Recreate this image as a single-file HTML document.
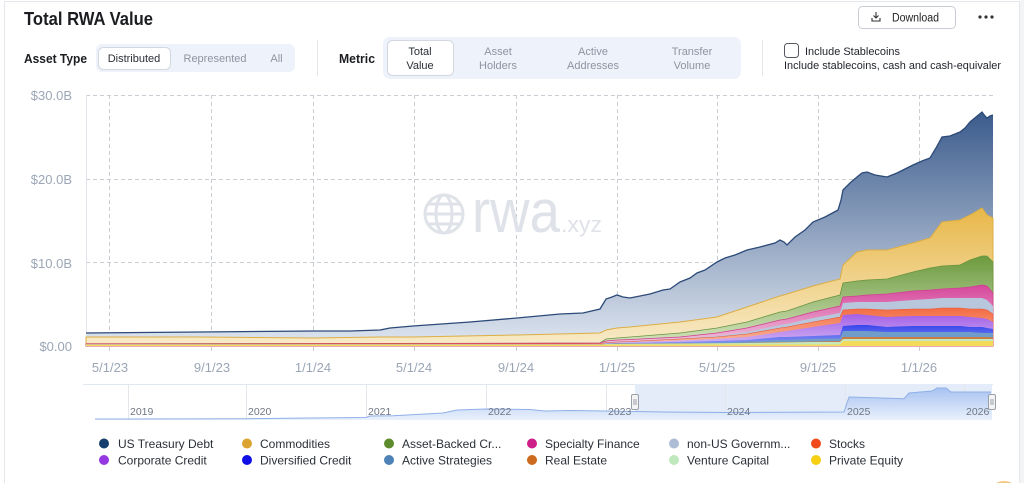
<!DOCTYPE html>
<html><head><meta charset="utf-8"><style>
html,body{margin:0;padding:0;background:#fff;}
svg{display:block;font-family:"Liberation Sans",Arial,sans-serif;}
</style></head><body>
<svg width="1024" height="483" viewBox="0 0 1024 483" xmlns="http://www.w3.org/2000/svg">
<defs>
<linearGradient id="gT" gradientUnits="userSpaceOnUse" x1="0" y1="110" x2="0" y2="346"><stop offset="0" stop-color="#3a5a8b"/><stop offset="1" stop-color="#dfe6f0"/></linearGradient>
<linearGradient id="gC" gradientUnits="userSpaceOnUse" x1="0" y1="210" x2="0" y2="346"><stop offset="0" stop-color="#e8b84a"/><stop offset="1" stop-color="#f8ebca"/></linearGradient>
<linearGradient id="gG" gradientUnits="userSpaceOnUse" x1="0" y1="255" x2="0" y2="346"><stop offset="0" stop-color="#6b993c"/><stop offset="1" stop-color="#d6e5c0"/></linearGradient>
<linearGradient id="gP" gradientUnits="userSpaceOnUse" x1="0" y1="285" x2="0" y2="346"><stop offset="0" stop-color="#d5469b"/><stop offset="1" stop-color="#f2c6de"/></linearGradient>
<linearGradient id="gS" gradientUnits="userSpaceOnUse" x1="0" y1="305" x2="0" y2="346"><stop offset="0" stop-color="#f2643a"/><stop offset="1" stop-color="#f9bca4"/></linearGradient>
<linearGradient id="gCc" gradientUnits="userSpaceOnUse" x1="0" y1="312" x2="0" y2="346"><stop offset="0" stop-color="#a05ae6"/><stop offset="1" stop-color="#d4b8f3"/></linearGradient>
<linearGradient id="gD" gradientUnits="userSpaceOnUse" x1="0" y1="322" x2="0" y2="346"><stop offset="0" stop-color="#2a38ea"/><stop offset="1" stop-color="#8f9cf2"/></linearGradient>
<linearGradient id="gN" gradientUnits="userSpaceOnUse" x1="0" y1="384" x2="0" y2="420"><stop offset="0" stop-color="#9fbcef"/><stop offset="1" stop-color="#eaf1fc"/></linearGradient>
</defs>

<!-- page frame -->
<rect x="1020" y="0" width="4" height="483" fill="#f3f4f6"/>
<rect x="4.5" y="1.5" width="1015" height="500" fill="none" stroke="#e4e7ec"/>

<!-- header -->
<text x="24" y="25" font-size="18" font-weight="bold" fill="#1b1d21" textLength="129" lengthAdjust="spacingAndGlyphs">Total RWA Value</text>

<rect x="858.5" y="6.5" width="97" height="22" rx="4" fill="#fff" stroke="#c9cdd3"/>
<g stroke="#333" stroke-width="1.1" fill="none">
<path d="M876,12 v6 M873.5,15.5 l2.5,2.5 l2.5,-2.5"/>
<path d="M872,18 v3 h8 v-3"/>
</g>
<text x="892" y="21.5" font-size="11.5" fill="#222" textLength="47" lengthAdjust="spacingAndGlyphs">Download</text>
<circle cx="980" cy="17" r="1.6" fill="#333"/><circle cx="986" cy="17" r="1.6" fill="#333"/><circle cx="992" cy="17" r="1.6" fill="#333"/>

<text x="24" y="63" font-size="13" font-weight="bold" fill="#1b1d21" textLength="63" lengthAdjust="spacingAndGlyphs">Asset Type</text>
<rect x="96" y="44" width="199" height="28" rx="6" fill="#eef2fa"/>
<rect x="98.5" y="47.5" width="72" height="22" rx="5" fill="#fff" stroke="#d3d8e0"/>
<text x="134" y="62" font-size="11" fill="#2a2e35" text-anchor="middle">Distributed</text>
<text x="215" y="62" font-size="11" fill="#8d95a2" text-anchor="middle">Represented</text>
<text x="276.5" y="62" font-size="11" fill="#8d95a2" text-anchor="middle">All</text>

<line x1="317.5" y1="40" x2="317.5" y2="76" stroke="#e4e7ec"/>

<text x="339" y="63" font-size="13" font-weight="bold" fill="#1b1d21" textLength="36" lengthAdjust="spacingAndGlyphs">Metric</text>
<rect x="383" y="37" width="358" height="42" rx="7" fill="#eef2fa"/>
<rect x="387.5" y="40.5" width="66" height="35" rx="5" fill="#fff" stroke="#d3d8e0"/>
<text x="420" y="55" font-size="11" fill="#2a2e35" text-anchor="middle">Total</text>
<text x="420" y="69" font-size="11" fill="#2a2e35" text-anchor="middle">Value</text>
<text x="498" y="55" font-size="11" fill="#8d95a2" text-anchor="middle">Asset</text>
<text x="498" y="69" font-size="11" fill="#8d95a2" text-anchor="middle">Holders</text>
<text x="593" y="55" font-size="11" fill="#8d95a2" text-anchor="middle">Active</text>
<text x="593" y="69" font-size="11" fill="#8d95a2" text-anchor="middle">Addresses</text>
<text x="692" y="55" font-size="11" fill="#8d95a2" text-anchor="middle">Transfer</text>
<text x="692" y="69" font-size="11" fill="#8d95a2" text-anchor="middle">Volume</text>

<line x1="762.5" y1="40" x2="762.5" y2="76" stroke="#e4e7ec"/>

<rect x="784.5" y="43.5" width="14" height="14" rx="3" fill="#fff" stroke="#55595f"/>
<text x="805" y="55" font-size="11" fill="#1f2329" textLength="95" lengthAdjust="spacingAndGlyphs">Include Stablecoins</text>
<text x="784" y="69" font-size="11" fill="#1f2329" textLength="217" lengthAdjust="spacingAndGlyphs">Include stablecoins, cash and cash-equivaler</text>

<!-- grid -->
<g stroke="#c9cdd4" stroke-width="1" stroke-dasharray="4,3" fill="none">
<line x1="86" y1="95.5" x2="993" y2="95.5"/>
<line x1="86" y1="179.5" x2="993" y2="179.5"/>
<line x1="86" y1="262.5" x2="993" y2="262.5"/>
<line x1="109.5" y1="95" x2="109.5" y2="352"/>
<line x1="211.5" y1="95" x2="211.5" y2="352"/>
<line x1="313.5" y1="95" x2="313.5" y2="352"/>
<line x1="414.5" y1="95" x2="414.5" y2="352"/>
<line x1="516.5" y1="95" x2="516.5" y2="352"/>
<line x1="617.5" y1="95" x2="617.5" y2="352"/>
<line x1="717.5" y1="95" x2="717.5" y2="352"/>
<line x1="818.5" y1="95" x2="818.5" y2="352"/>
<line x1="919.5" y1="95" x2="919.5" y2="352"/>
</g>
<line x1="86.5" y1="95" x2="86.5" y2="346" stroke="#e1e4e9"/>

<!-- watermark -->
<g fill="none" stroke="#dfe2e8" stroke-width="3">
<circle cx="444" cy="214" r="19"/>
<ellipse cx="444" cy="214" rx="8" ry="19"/>
<line x1="425" y1="214" x2="463" y2="214"/>
<path d="M428,204 h32 M428,224 h32"/>
</g>
<text x="472" y="232" font-size="60" fill="#dfe2e8" textLength="88" lengthAdjust="spacingAndGlyphs">rwa</text>
<text x="561" y="232" font-size="22" fill="#dfe2e8" textLength="41" lengthAdjust="spacingAndGlyphs">.xyz</text>

<!-- stacked areas -->
<path fill="url(#gT)" stroke="none" d="M86,346 L86,333 L200,332 L313,331 L350,331 L380,330 L390,328 L413,326 L470,322 L517,318 L560,314 L583,313 L600,309 L606,299 L612,297 L617,295 L623,297 L630,298 L640,296 L650,294 L663,290 L670,289 L680,282 L690,278 L697,273 L705,270 L717,262 L725,258 L735,255 L747,250 L760,247 L775,243 L780,240 L784,242 L787,245 L795,237 L805,230 L813,222 L825,217 L838,210 L841,200 L843,190 L850,183 L857,177 L862,173 L867,172 L875,175 L887,177 L897,173 L905,169 L913,165 L922,161 L930,158 L936,148 L942,137 L950,136 L960,132 L965,128 L970,122 L976,117 L982,112 L985,116 L987,118 L990,116 L993,115 L993,346 Z"/>
<path fill="none" stroke="#2c4a78" stroke-width="1.3" d="M86,333 L200,332 L313,331 L350,331 L380,330 L390,328 L413,326 L470,322 L517,318 L560,314 L583,313 L600,309 L606,299 L612,297 L617,295 L623,297 L630,298 L640,296 L650,294 L663,290 L670,289 L680,282 L690,278 L697,273 L705,270 L717,262 L725,258 L735,255 L747,250 L760,247 L775,243 L780,240 L784,242 L787,245 L795,237 L805,230 L813,222 L825,217 L838,210 L841,200 L843,190 L850,183 L857,177 L862,173 L867,172 L875,175 L887,177 L897,173 L905,169 L913,165 L922,161 L930,158 L936,148 L942,137 L950,136 L960,132 L965,128 L970,122 L976,117 L982,112 L985,116 L987,118 L990,116 L993,115"/>

<path fill="url(#gC)" stroke="#dcae45" stroke-width="1" d="M86,346 L86,337 L200,337 L313,338 L380,337 L413,337 L517,335 L600,333 L606,330 L617,328 L630,327 L680,322 L717,317 L747,307 L780,296 L787,294 L813,286 L840,279 L843,265 L857,252 L867,250 L887,250 L913,243 L930,238 L942,222 L960,220 L970,215 L982,208 L987,215 L993,218 L993,346 Z"/>

<path fill="url(#gG)" stroke="#6a9440" stroke-width="0.8" d="M86,346 L86,343.8 L313,343.5 L517,343.3 L600,343 L606,339 L617,338 L630,337 L680,333 L717,328 L747,322 L780,312 L787,311 L813,302 L840,295 L843,283 L857,281 L867,280 L887,279 L913,272 L930,268 L942,266 L960,265 L970,260 L982,256 L987,256 L993,262 L993,346 Z"/>

<path fill="url(#gP)" stroke="#d0408f" stroke-width="0.8" d="M86,346 L86,343.8 L200,343.8 L313,343.5 L380,343.5 L413,343.5 L517,343.3 L600,343 L606,341 L617,340 L630,339.5 L680,337 L717,333 L747,328 L780,320 L787,319 L813,312 L840,306 L843,297 L857,296 L867,295 L887,294 L913,291 L930,290 L942,289 L960,288 L970,287 L982,285 L987,286 L993,293 L993,346 Z"/>

<path fill="#b9c7dd" d="M86,346 L86,344 L200,344 L313,343.7 L517,343.6 L600,343.5 L606,342 L617,341.5 L630,341 L680,338.5 L717,336 L747,332 L780,325 L787,324 L813,318 L840,313 L843,303 L857,302 L887,302 L913,300 L930,299 L942,298 L982,298 L987,300 L993,306 L993,346 Z"/>

<path fill="url(#gS)" stroke="#e8553a" stroke-width="0.6" d="M86,346 L86,344 L200,344 L313,343.8 L600,343.8 L606,342.5 L617,342 L630,341.5 L680,339 L717,337 L747,334 L780,328 L787,327 L813,322 L840,317 L843,310 L857,309 L867,309 L887,310 L913,309 L930,309 L942,308 L960,308 L970,309 L982,309 L987,310 L993,314 L993,346 Z"/>

<path fill="url(#gCc)" d="M86,346 L86,344.2 L600,344.2 L606,343 L617,342.5 L630,342 L680,340.5 L717,339 L747,337 L780,332 L787,331 L813,327 L840,323 L843,315 L857,314 L867,315 L887,317 L913,316 L960,316 L970,317 L982,318 L987,319 L993,322 L993,346 Z"/>

<path fill="url(#gD)" d="M86,346 L86,344.3 L600,344.3 L606,343.5 L617,343 L630,343 L680,342 L717,341 L747,340 L780,337 L787,337 L813,336 L840,335 L843,326 L857,325 L867,325 L887,327 L913,326 L960,326 L970,327 L982,327 L987,328 L993,329 L993,346 Z"/>

<path fill="#6f9cc8" d="M86,346 L86,344.5 L600,344.5 L606,343.8 L617,343.5 L630,343.5 L680,343 L717,342.6 L747,341.5 L780,340 L787,340 L813,339 L840,338.5 L843,331 L867,331 L887,332 L970,332 L982,333 L993,333 L993,346 Z"/>

<path fill="#c97d44" d="M86,346 L86,344.5 L600,344.5 L606,344 L617,343.8 L630,343.8 L680,343.3 L717,343.3 L747,342.8 L780,342 L787,342 L813,341.5 L840,341 L843,337 L987,337 L993,337.5 L993,346 Z"/>

<path fill="#c6e8be" d="M86,346 L86,344.5 L600,344.5 L606,344 L680,343.5 L747,343 L780,342.5 L813,342 L840,342 L843,339 L993,339 L993,346 Z"/>

<path fill="#f3da5a" d="M86,346 L86,344.5 L840,344.5 L843,341 L993,341 L993,346 Z"/>

<!-- axis labels -->
<g font-size="13" fill="#9ba6b6" text-anchor="end">
<text x="72" y="100">$30.0B</text>
<text x="72" y="184">$20.0B</text>
<text x="72" y="268">$10.0B</text>
<text x="72" y="351">$0.00</text>
</g>
<g font-size="13" fill="#9ba6b6" text-anchor="middle">
<text x="110" y="372">5/1/23</text>
<text x="212" y="372">9/1/23</text>
<text x="313" y="372">1/1/24</text>
<text x="414" y="372">5/1/24</text>
<text x="516" y="372">9/1/24</text>
<text x="617" y="372">1/1/25</text>
<text x="717" y="372">5/1/25</text>
<text x="818" y="372">9/1/25</text>
<text x="919" y="372">1/1/26</text>
</g>

<!-- navigator -->
<line x1="83" y1="384.5" x2="993" y2="384.5" stroke="#e1e7f0"/>
<rect x="635" y="384" width="357" height="36" fill="#e4ecf9"/>
<g stroke="#e3e6eb" stroke-width="1">
<line x1="128.5" y1="384" x2="128.5" y2="420"/>
<line x1="246.5" y1="384" x2="246.5" y2="420"/>
<line x1="366.5" y1="384" x2="366.5" y2="420"/>
<line x1="486.5" y1="384" x2="486.5" y2="420"/>
<line x1="606.5" y1="384" x2="606.5" y2="420"/>
<line x1="725.5" y1="384" x2="725.5" y2="420"/>
<line x1="845.5" y1="384" x2="845.5" y2="420"/>
<line x1="964.5" y1="384" x2="964.5" y2="420"/>
</g>
<path fill="url(#gN)" d="M95,419 L128,419 L246,418.7 L310,418 L366,417.5 L370,416 L393,415.7 L443,413 L457,410 L486,409 L530,409.5 L545,411 L571,410.5 L606,411 L664,412 L725,412.5 L844,412 L849,397 L904,398.7 L909,393 L932,391 L937,388 L946,388 L951,392 L991,392 L991,420 L95,420 Z"/>
<path fill="none" stroke="#8fb0e6" stroke-width="1" d="M95,419 L128,419 L246,418.7 L310,418 L366,417.5 L370,416 L393,415.7 L443,413 L457,410 L486,409 L530,409.5 L545,411 L571,410.5 L606,411 L664,412 L725,412.5 L844,412 L849,397 L904,398.7 L909,393 L932,391 L937,388 L946,388 L951,392 L991,392"/>
<g font-size="10.5" fill="#6f7683">
<text x="130" y="415">2019</text>
<text x="248" y="415">2020</text>
<text x="368" y="415">2021</text>
<text x="488" y="415">2022</text>
<text x="608" y="415">2023</text>
<text x="727" y="415">2024</text>
<text x="847" y="415">2025</text>
<text x="966" y="415">2026</text>
</g>
<rect x="631.5" y="394.5" width="7" height="15" rx="1.5" fill="#f4f4f4" stroke="#9aa0a8"/>
<line x1="634" y1="399" x2="634" y2="405" stroke="#9aa0a8"/><line x1="636" y1="399" x2="636" y2="405" stroke="#9aa0a8"/>
<rect x="988.5" y="394.5" width="7" height="15" rx="1.5" fill="#f4f4f4" stroke="#9aa0a8"/>
<line x1="991" y1="399" x2="991" y2="405" stroke="#9aa0a8"/><line x1="993" y1="399" x2="993" y2="405" stroke="#9aa0a8"/>

<!-- legend -->
<g font-size="12" fill="#2b3038">
<circle cx="104" cy="443.5" r="5" fill="#173f6e"/><text x="118" y="448">US Treasury Debt</text>
<circle cx="247" cy="443.5" r="5" fill="#dba431"/><text x="260" y="448">Commodities</text>
<circle cx="389" cy="443.5" r="5" fill="#5e8b2c"/><text x="402" y="448">Asset-Backed Cr...</text>
<circle cx="532" cy="443.5" r="5" fill="#cc1f87"/><text x="545" y="448">Specialty Finance</text>
<circle cx="674" cy="443.5" r="5" fill="#adbdd6"/><text x="687" y="448">non-US Governm...</text>
<circle cx="816" cy="443.5" r="5" fill="#f14a1d"/><text x="829" y="448">Stocks</text>

<circle cx="104" cy="460" r="5" fill="#9638e2"/><text x="118" y="464.5">Corporate Credit</text>
<circle cx="247" cy="460" r="5" fill="#0f0fe6"/><text x="260" y="464.5">Diversified Credit</text>
<circle cx="389" cy="460" r="5" fill="#4c82b5"/><text x="402" y="464.5">Active Strategies</text>
<circle cx="532" cy="460" r="5" fill="#cc6a1f"/><text x="545" y="464.5">Real Estate</text>
<circle cx="674" cy="460" r="5" fill="#bfe8bd"/><text x="687" y="464.5">Venture Capital</text>
<circle cx="816" cy="460" r="5" fill="#f6cf10"/><text x="829" y="464.5">Private Equity</text>
</g>

<ellipse cx="1004" cy="489" rx="12" ry="8" fill="#f2bd6a" opacity="0.8"/>
</svg>
</body></html>
